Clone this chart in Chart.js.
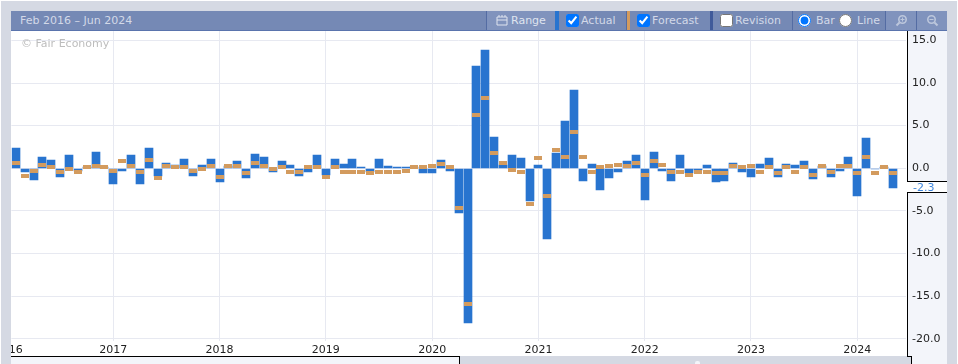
<!DOCTYPE html>
<html>
<head>
<meta charset="utf-8">
<script src="https://cdn.jsdelivr.net/npm/chart.js@4/dist/chart.umd.min.js"></script>
<style>
  html, body { margin: 0; padding: 0; background: #fff; overflow: hidden; }
  #page { position: absolute; left: 1px; top: 1px; width: 956px; height: 363px; background: #d5d9e3; }
  #stage { position: absolute; left: 0; top: 0; width: 958px; height: 364px; font: 11px "DejaVu Sans", sans-serif; }
  #plotbg { position: absolute; left: 11px; top: 31px; width: 896px; height: 325px; background: #fff; }
  #ypanel { position: absolute; left: 907px; top: 31px; width: 40px; height: 325px; background: #f3f5fa; border-left: 1px solid #000; box-sizing: border-box; }
  #ystub { position: absolute; left: 907px; top: 356px; width: 40px; height: 8px; background: #d5d9e3; }
  #ystub2 { position: absolute; left: 911px; top: 356px; width: 36px; height: 8px; background: #f3f5fa; border-left: 1px solid #000; border-top: 0; box-sizing: border-box; }
  #ystub3 { position: absolute; left: 907px; top: 356px; width: 5px; height: 1px; background: #000; }
  #nav { position: absolute; left: 11px; top: 356px; width: 449px; height: 8px; background: #f3f5fa; border-top: 1px solid #000; border-right: 1px solid #000; box-sizing: border-box; }
  #grip { position: absolute; left: 695px; top: 361px; width: 5px; height: 3px; background: #f3f5fa; border-radius: 2px 2px 0 0; }
  canvas { position: absolute; left: 11px; top: 31px; }
  #bar { position: absolute; left: 11px; top: 11px; width: 936px; height: 20px; background: #7589b5; border-bottom: 1px solid #5a74ad; box-sizing: border-box; color: #d3d9e8; }
  #bar span, #bar i, #bar input, #bar svg { position: absolute; }
  #bar span { top: 3px; line-height: 14px; white-space: nowrap; }
  #bar i { top: 0; height: 19px; display: block; }
  #bar input { margin: 0; top: 3px; width: 13px; height: 13px; }
  #mark { position: absolute; left: 21px; top: 37px; color: #bdbdbd; line-height: 14px; }
</style>
</head>
<body>
<div id="page"></div>
<div id="stage">
  <div id="plotbg"></div>
  <div id="ypanel"></div>
  <div id="ystub"></div>
  <div id="ystub2"></div>
  <div id="ystub3"></div>
  <div id="nav"></div>
  <div id="grip"></div>
  <div id="bar">
    <span style="left:9px">Feb 2016 – Jun 2024</span>
    <i style="left:475px;width:69px;background:#8093bd;border-left:1px solid #546ca3"></i>
    <svg style="left:485px;top:3px" width="12" height="12" viewBox="0 0 12 12"><path d="M1 3h10v8H1zM3 1v2M6 1v2M9 1v2M1 6h10" fill="none" stroke="#dfe4ef" stroke-width="1"/></svg>
    <span style="left:500px;font-size:11px;color:#dfe4ef">Range</span>
    <i style="left:544px;width:4px;background:#2874cf"></i>
    <input type="checkbox" checked style="left:555px">
    <span style="left:570px">Actual</span>
    <i style="left:615px;width:1px;background:#546ca3"></i>
    <i style="left:616px;width:3px;background:#d39b5e"></i>
    <input type="checkbox" checked style="left:626px">
    <span style="left:641px">Forecast</span>
    <i style="left:699px;width:3px;background:#3f5a9a"></i>
    <input type="checkbox" style="left:709px">
    <span style="left:724px">Revision</span>
    <i style="left:781px;width:1px;background:#546ca3"></i>
    <input type="radio" name="kind" checked style="left:787px">
    <span style="left:805px">Bar</span>
    <input type="radio" name="kind" style="left:828px">
    <span style="left:846px">Line</span>
    <i style="left:874px;width:1px;background:#546ca3"></i>
    <i style="left:875px;width:30px;background:#8093bd"></i>
    <i style="left:905px;width:1px;background:#546ca3"></i>
    <i style="left:906px;width:30px;background:#8093bd"></i>
    <svg style="left:884px;top:3px" width="13" height="13" viewBox="0 0 13 13"><circle cx="7.5" cy="5.5" r="3.7" fill="none" stroke="#bcc7dc" stroke-width="1.6"/><path d="M4.5 8.5L1.5 11.5" stroke="#bcc7dc" stroke-width="2"/><path d="M5.5 5.5h4M7.5 3.5v4" stroke="#bcc7dc"/></svg>
    <svg style="left:915px;top:3px" width="13" height="13" viewBox="0 0 13 13"><circle cx="5.5" cy="5.5" r="3.7" fill="none" stroke="#bcc7dc" stroke-width="1.6"/><path d="M8.5 8.5L11.5 11.5" stroke="#bcc7dc" stroke-width="2"/><path d="M3.5 5.5h4" stroke="#bcc7dc"/></svg>
  </div>
  <canvas id="chart" width="936" height="325"></canvas>
  <div id="mark">© Fair Economy</div>
</div>
<script>
const months = [
  '2016-02','2016-03','2016-04','2016-05','2016-06','2016-07','2016-08','2016-09','2016-10','2016-11','2016-12',
  '2017-01','2017-02','2017-03','2017-04','2017-05','2017-06','2017-07','2017-08','2017-09','2017-10','2017-11','2017-12',
  '2018-01','2018-02','2018-03','2018-04','2018-05','2018-06','2018-07','2018-08','2018-09','2018-10','2018-11','2018-12',
  '2019-01','2019-02','2019-03','2019-04','2019-05','2019-06','2019-07','2019-08','2019-09','2019-10','2019-11','2019-12',
  '2020-01','2020-02','2020-03','2020-04','2020-05','2020-06','2020-07','2020-08','2020-09','2020-10','2020-11','2020-12',
  '2021-01','2021-02','2021-03','2021-04','2021-05','2021-06','2021-07','2021-08','2021-09','2021-10','2021-11','2021-12',
  '2022-01','2022-02','2022-03','2022-04','2022-05','2022-06','2022-07','2022-08','2022-09','2022-10','2022-11','2022-12',
  '2023-01','2023-02','2023-03','2023-04','2023-05','2023-06','2023-07','2023-08','2023-09','2023-10','2023-11','2023-12',
  '2024-01','2024-02','2024-03','2024-04','2024-05','2024-06'
];
const actual = [
  2.4,-0.4,-1.4,1.3,1.0,-1.0,1.5,-0.3,0.2,1.9,0.1,
  -1.9,-0.3,1.5,-1.8,2.4,-0.9,0.6,0.4,1.1,-0.9,0.4,1.1,
  -1.6,0.3,0.9,-1.2,1.7,1.3,-0.5,0.8,0.4,-0.9,-0.5,1.5,
  -0.8,1.1,0.5,1.1,0.1,-0.4,1.1,0.3,0.1,0.1,0.1,-0.6,
  -0.6,1.0,-0.3,-5.2,-18.2,12.0,13.9,3.7,0.4,1.6,1.2,-3.9,
  0.4,-8.3,1.8,5.5,9.2,-1.5,0.5,-2.6,-1.1,-0.4,0.9,1.5,
  -3.7,1.9,-0.3,-1.5,1.5,-0.6,-0.2,0.4,-1.6,-1.5,0.6,-0.4,
  -1.0,0.5,1.2,-1.0,0.5,0.4,0.8,-1.3,0.3,-1.0,-0.3,1.3,
  -3.3,3.5,-0.1,0.1,-2.3,null
];
const forecast = [
  0.6,-0.9,-0.3,0.4,0.2,-0.5,-0.1,-0.5,0.2,0.3,0.1,
  -0.3,0.9,0.3,-0.4,1.0,-1.1,0.3,0.1,0.1,-0.3,-0.1,0.3,
  -1.0,0.3,0.3,-0.6,0.6,0.3,-0.1,0.1,-0.4,-0.5,0.1,0.2,
  -1.0,0.1,-0.5,-0.4,-0.4,-0.6,-0.4,-0.4,-0.4,-0.3,0.1,0.2,
  0.3,0.5,0.1,-4.7,-15.9,6.2,8.2,1.8,0.6,-0.2,-0.4,-4.2,
  1.2,-3.2,2.1,1.3,4.3,1.3,-0.4,0.1,0.3,0.4,0.3,0.6,
  -0.8,0.9,0.4,-0.4,-0.4,-0.8,-0.5,-0.4,-0.6,-0.6,0.3,0.2,
  0.3,-0.4,0.1,-0.6,0.2,-0.4,0.1,-0.8,0.3,-0.4,0.3,0.3,
  -0.6,1.3,-0.6,0.2,-0.6,null
];
const yTop = 16.09;
const yBottom = -20.27;

const blue = '#2874cf';
const tan = '#d39b5e';
const gridColor = '#e7e9f1';
const tickColor = '#222';

// forecast is a flat little bar, so use a canvas as the point style
const dash = document.createElement('canvas');
dash.width = 8;
dash.height = 4;
const dashCtx = dash.getContext('2d');
dashCtx.fillStyle = tan;
dashCtx.fillRect(0, 0, 8, 4);

// marks on whole pixels, the reference has hard edges
const snapMarks = {
  id: 'snapMarks',
  beforeDatasetsDraw(chart) {
    chart.data.datasets.forEach((ds, i) => {
      chart.getDatasetMeta(i).data.forEach(el => {
        el.x = Math.round(el.x);
        el.y = Math.round(el.y);
        if (el.base !== undefined) el.base = Math.round(el.base);
      });
    });
  }
};

// white box with the latest actual value on the right axis
const lastValue = {
  id: 'lastValue',
  afterDraw(chart) {
    const last = actual.filter(v => v !== null).pop();
    const y = Math.round(chart.scales.y.getPixelForValue(last));
    const left = chart.chartArea.right + 1;
    const ctx = chart.ctx;
    ctx.save();
    ctx.fillStyle = '#fff';
    ctx.fillRect(left, y - 7, 40, 12);
    ctx.fillStyle = '#000';
    ctx.fillRect(left, y - 7, 40, 1);
    ctx.fillRect(left, y + 4, 40, 1);
    ctx.fillStyle = '#3f86dc';
    ctx.font = '11px "DejaVu Sans"';
    ctx.textBaseline = 'middle';
    ctx.fillText(last.toFixed(1), left + 6, y);
    ctx.restore();
  }
};

// no room kept for half labels at the ends of the axes
function noPadding(s) {
  s.paddingTop = 0;
  s.paddingBottom = 0;
  s.paddingLeft = 0;
  s.paddingRight = 0;
}

new Chart(document.getElementById('chart'), {
  type: 'bar',
  plugins: [snapMarks, lastValue],
  data: {
    labels: months,
    datasets: [
      {
        type: 'line',
        label: 'Forecast',
        data: forecast,
        showLine: false,
        pointStyle: dash,
        pointRadius: 0.1,
        pointHoverRadius: 0.1,
        pointBorderWidth: 0,
        order: 1
      },
      {
        label: 'Actual',
        data: actual,
        backgroundColor: blue,
        barThickness: 8,
        order: 2
      }
    ]
  },
  options: {
    responsive: false,
    animation: false,
    layout: { padding: { left: 0.4 } },
    plugins: { legend: { display: false }, tooltip: { enabled: false } },
    scales: {
      x: {
        offset: true,
        afterFit: s => { s.height = 15; noPadding(s); },
        border: { display: false },
        grid: {
          offset: false,
          drawTicks: false,
          color: c => (months[c.index] || '').endsWith('-01') ? gridColor : 'transparent'
        },
        ticks: {
          autoSkip: false,
          maxRotation: 0,
          padding: 3,
          color: tickColor,
          font: { family: 'DejaVu Sans', size: 11 },
          callback: (v, i) => {
            if (i === 0) return '16';
            return months[i].endsWith('-01') ? months[i].slice(0, 4) : '';
          }
        }
      },
      y: {
        position: 'right',
        min: yBottom,
        max: yTop,
        afterFit: s => { s.width = 41; noPadding(s); },
        border: { display: false },
        grid: { drawTicks: false, color: gridColor },
        ticks: {
          stepSize: 5,
          includeBounds: false,
          padding: 6,
          color: tickColor,
          font: { family: 'DejaVu Sans', size: 11 },
          callback: v => v.toFixed(1)
        }
      }
    }
  }
});
</script>
</body>
</html>
